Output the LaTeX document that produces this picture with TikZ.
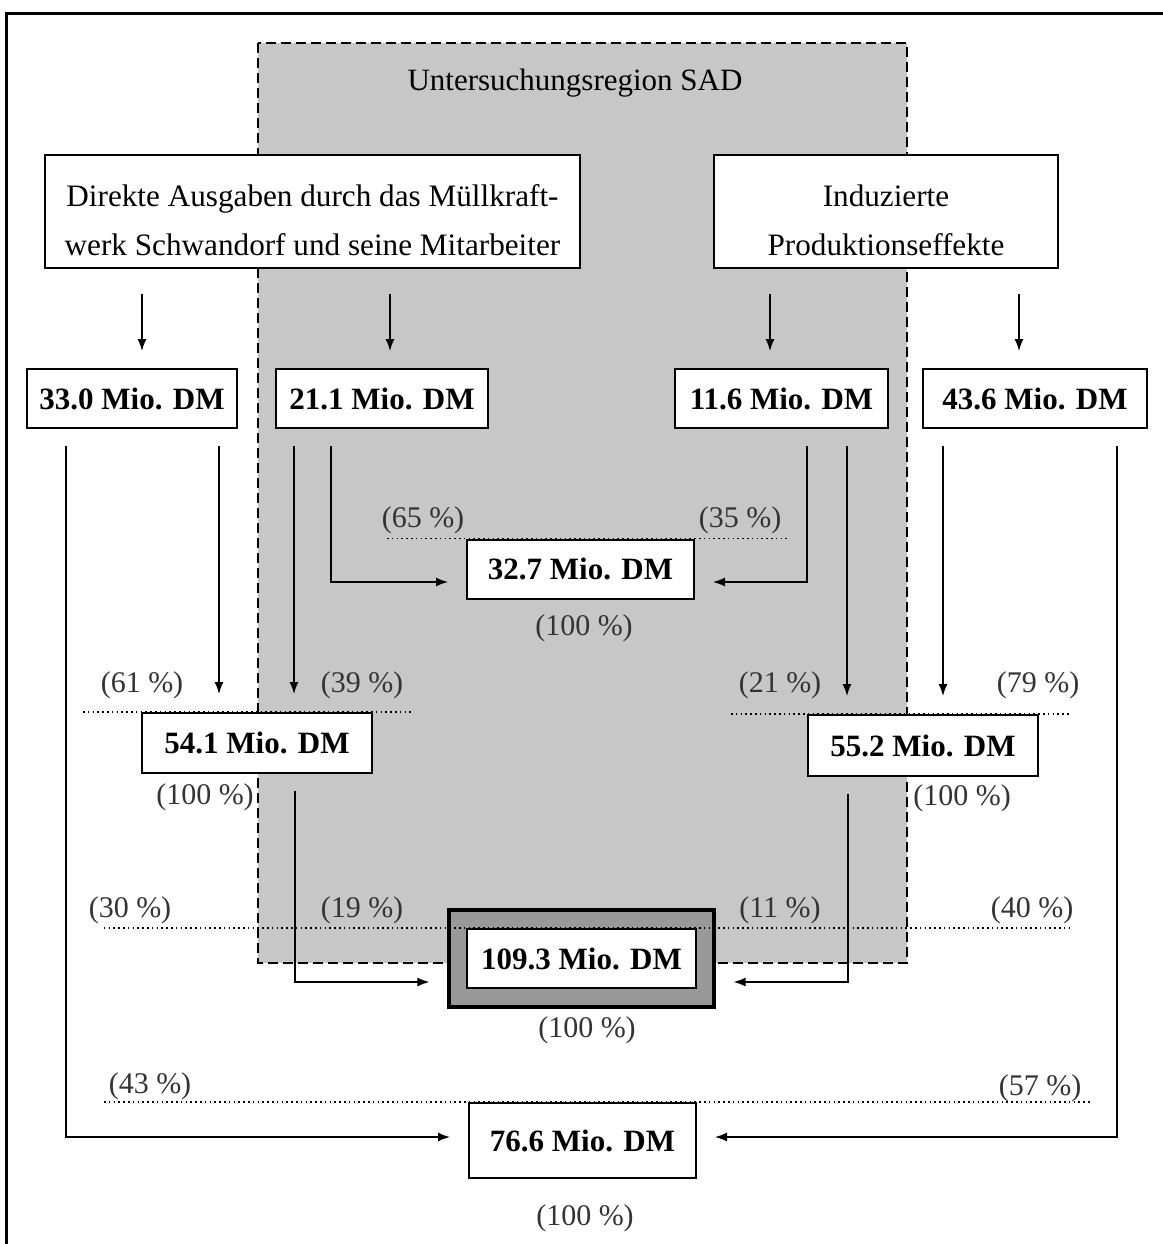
\documentclass[tikz,border=0pt]{standalone}
\usepackage{fontspec}
\setmainfont{Liberation Serif}
\usetikzlibrary{arrows.meta}

\begin{document}
\begin{tikzpicture}[
        x=0.5pt, y=-0.5pt,
        cause/.style={draw, line width=1pt, fill=white, align=center, inner sep=0pt,
            text height=50pt, text depth=6.5pt, font=\fontsize{15.6}{24.5}\selectfont},
        amount/.style={draw, line width=1pt, fill=white, inner sep=0pt, minimum height=29.5pt,
            font=\fontsize{15.5}{18}\selectfont\bfseries},
        share/.style={text=black!80, font=\fontsize{15}{18}\selectfont},
        flow/.style={-{Latex[length=6pt,width=4.5pt]}, line width=0.7pt, shorten <=8.5pt, shorten >=9pt},
        feed/.style={flow, shorten <=12.5pt, shorten >=8.5pt},
        cutline/.style={line width=0.8pt, dash pattern=on 0.8pt off 1.6pt}
    ]

    \useasboundingbox (0,0) rectangle (1163,1244);
    \draw[line width=1.5pt] (6,1244) -- (6,13) -- (1163,13);

    % study region
    \draw[fill=black!22, line width=0.9pt, dash pattern=on 5pt off 2.5pt] (258,43) rectangle (907,963);
    \node[font=\fontsize{15.5}{18}\selectfont] (region) at (575,83) {Untersuchungsregion SAD};

    \node[cause, minimum width=267.5pt] (direkte) at (312.5,211.5)
        {Direkte Ausgaben durch das Müllkraft-\\werk Schwandorf und seine Mitarbeiter};
    \node[cause, minimum width=172pt] (induziert) at (886,211.5)
        {Induzierte\\Produktionseffekte};

    \node[amount, minimum width=105pt] (d330) at (132,398.5) {33.0 Mio. DM};
    \node[amount, minimum width=106pt] (d211) at (382,398.5) {21.1 Mio. DM};
    \node[amount, minimum width=106.5pt] (d116) at (781.5,398.5) {11.6 Mio. DM};
    \node[amount, minimum width=112pt] (d436) at (1035,398.5) {43.6 Mio. DM};
    \node[amount, minimum width=113.5pt] (d327) at (580.5,569) {32.7 Mio. DM};
    \node[amount, minimum width=115pt, minimum height=30pt] (d541) at (257,743) {54.1 Mio. DM};
    \node[amount, minimum width=115pt, minimum height=30.5pt] (d552) at (923,745.5) {55.2 Mio. DM};
    \node[draw, line width=1.6pt, fill=black!40, minimum width=132.5pt, minimum height=48.5pt] (total) at (581.5,958.5) {};
    \node[amount, line width=1.2pt, minimum width=114.5pt] (d1093) at (total.center) {109.3 Mio. DM};
    \node[amount, minimum width=113.5pt, minimum height=37.5pt] (d766) at (582.5,1140.5) {76.6 Mio. DM};

    % feeds from the two sources
    \coordinate (f1) at ([xshift=5pt]d330.north);
    \coordinate (f2) at ([xshift=4pt]d211.north);
    \coordinate (f3) at ([xshift=-5.75pt]d116.north);
    \coordinate (f4) at ([xshift=-8pt]d436.north);
    \draw[feed] (f1 |- direkte.south) -- (f1);
    \draw[feed] (f2 |- direkte.south) -- (f2);
    \draw[feed] (f3 |- induziert.south) -- (f3);
    \draw[feed] (f4 |- induziert.south) -- (f4);

    % flows into the sums
    \coordinate (g1) at ([xshift=43.5pt]d330.south);
    \coordinate (g2) at ([xshift=-44pt]d211.south);
    \coordinate (g3) at ([xshift=32.75pt]d116.south);
    \coordinate (g4) at ([xshift=-46pt]d436.south);
    \draw[flow] (g1) -- (g1 |- d541.north);
    \draw[flow] (g2) -- (g2 |- d541.north);
    \draw[flow] (g3) -- (g3 |- d552.north);
    \draw[flow] (g4) -- (g4 |- d552.north);
    \draw[flow] ([xshift=-25.5pt]d211.south) |- ([yshift=-6.5pt]d327.west);
    \draw[flow] ([xshift=12.75pt]d116.south) |- ([yshift=-6.5pt]d327.east);
    \draw[flow] ([xshift=19pt]d541.south) |- ([yshift=-11.75pt]total.west);
    \draw[flow] ([xshift=-37.5pt]d552.south) |- ([yshift=-11.75pt]total.east);
    \draw[flow] ([xshift=-33pt]d330.south) |- ([yshift=1.75pt]d766.west);
    \draw[flow] ([xshift=41pt]d436.south) |- ([yshift=1.75pt]d766.east);

    % dotted share lines
    \draw[cutline] ([xshift=-39.5pt]d327.north west) -- ([xshift=47pt]d327.north east);
    \draw[cutline] ([xshift=-29pt]d541.north west) -- ([xshift=19pt]d541.north east);
    \draw[cutline] ([xshift=-38pt]d552.north west) -- ([xshift=16pt]d552.north east);
    \draw[cutline] ([xshift=-181pt]d1093.north west) -- ([xshift=187pt]d1093.north east);
    \draw[cutline] ([xshift=-182pt]d766.north west) -- ([xshift=196.5pt]d766.north east);

    \node[share] (p65) at (423,520) {(65 \%)};
    \node[share] (p35) at (740,520) {(35 \%)};
    \node[share] (p327) at (584,628) {(100 \%)};
    \node[share] (p61) at (142,685) {(61 \%)};
    \node[share] (p39) at (362,685) {(39 \%)};
    \node[share] (p21) at (780,685) {(21 \%)};
    \node[share] (p79) at (1038,685) {(79 \%)};
    \node[share] (p541) at (205,797) {(100 \%)};
    \node[share] (p552) at (962,798) {(100 \%)};
    \node[share] (p30) at (130,910) {(30 \%)};
    \node[share] (p19) at (362,910) {(19 \%)};
    \node[share] (p11) at (780,910) {(11 \%)};
    \node[share] (p40) at (1032,910) {(40 \%)};
    \node[share] (p1093) at (587,1030) {(100 \%)};
    \node[share] (p43) at (150,1086) {(43 \%)};
    \node[share] (p57) at (1040,1088) {(57 \%)};
    \node[share] (p766) at (585,1218) {(100 \%)};

\end{tikzpicture}
\end{document}
